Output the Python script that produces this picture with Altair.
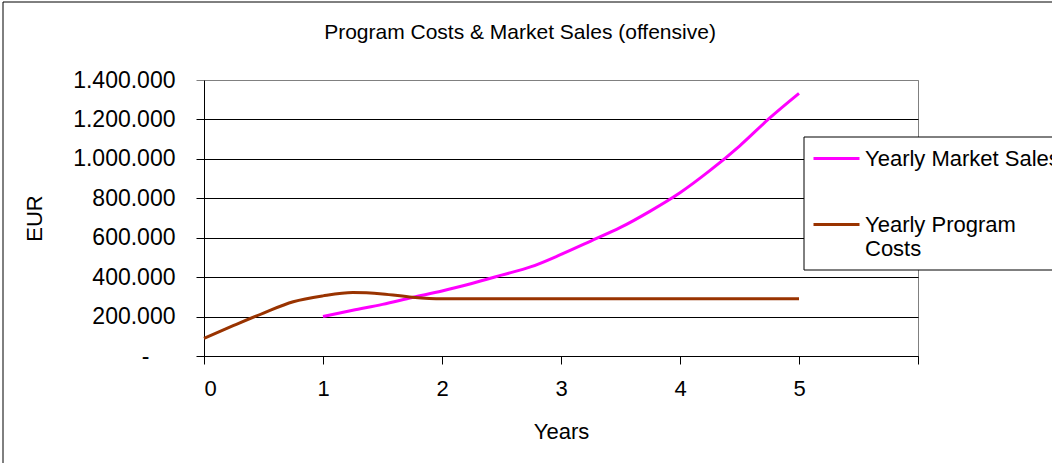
import altair as alt
import pandas as pd

# ---- data ----
cost_years = [0, 0.25, 0.5, 0.75, 1, 1.25, 1.5, 1.75, 2, 3, 4, 5]
cost_values = [90000, 155000, 218000, 275000, 305000, 322000, 315000, 298000, 290000, 290000, 290000, 290000]

sales_years = [1, 1.25, 1.5, 1.75, 2, 2.25, 2.5, 2.75, 3, 3.25, 3.5, 3.75, 4, 4.25, 4.5, 4.75, 5]
sales_values = [200000, 232000, 262000, 297000, 330000, 368000, 410000, 453000, 515000, 583000,
                652000, 735000, 828000, 940000, 1065000, 1205000, 1332000]

series_names = ["Yearly Market Sales", "Yearly Program Costs"]
series_colors = ["#FF00FF", "#993300"]

x_ticks = [0, 1, 2, 3, 4, 5, 6]
y_ticks = [0, 200000, 400000, 600000, 800000, 1000000, 1200000, 1400000]

title_text = "Program Costs & Market Sales (offensive)"

df = pd.concat([
    pd.DataFrame({"Years": sales_years, "EUR": sales_values, "Series": series_names[0]}),
    pd.DataFrame({"Years": cost_years, "EUR": cost_values, "Series": series_names[1]}),
], ignore_index=True)

FONT = "Liberation Sans"
one_row = pd.DataFrame({"a": [0]})

# outer chart-area frame
frame = alt.Chart(one_row).mark_rect(
    filled=False, stroke="black", strokeWidth=1
).encode(
    x=alt.value(-201), x2=alt.value(880), y=alt.value(-78), y2=alt.value(400)
)

lines = alt.Chart(df).mark_line(strokeWidth=3, interpolate="monotone").encode(
    x=alt.X("Years:Q",
            scale=alt.Scale(domain=[0, 6], nice=False, zero=False),
            axis=alt.Axis(values=x_ticks, title="Years", grid=False,
                          labelExpr="datum.value == 6 ? '' : datum.label",
                          tickSize=8, labelPadding=14, titleY=82,
                          titleBaseline="alphabetic")),
    y=alt.Y("EUR:Q",
            scale=alt.Scale(domain=[0, 1400000], nice=False),
            axis=alt.Axis(values=y_ticks, title="EUR", format=",d",
                          labelExpr="datum.value == 0 ? '-' : replace(datum.label, /,/g, '.')",
                          labelFontSize=23,
                          tickSize=8,
                          labelPadding={"condition": {"test": "datum.value == 0", "value": 47}, "value": 21},
                          gridColor={"condition": {"test": "datum.value == 1400000", "value": "#808080"}, "value": "black"},
                          tickColor={"condition": {"test": "datum.value == 1400000", "value": "#808080"}, "value": "black"},
                          titleAngle=270, titleX=-170, titleY=138,
                          titleAlign="center", titleBaseline="middle")),
    color=alt.Color("Series:N",
                    scale=alt.Scale(domain=series_names, range=series_colors),
                    legend=alt.Legend(
                        title=None, orient="none", legendX=600, legendY=46,
                        padding=8,
                        symbolType="stroke", symbolSize=2116, symbolStrokeWidth=3,
                        labelOffset=4, rowPadding=30,
                        labelExpr="datum.label == 'Yearly Program Costs' ? ['Yearly Program', 'Costs'] : datum.label",
                        labelFontSize=22, labelFont=FONT, labelColor="black",
                        labelLimit=400)),
)

# legend box (white, black border), drawn over the grid
legend_box = alt.Chart(one_row).mark_rect(
    fill="white", stroke="black", strokeWidth=1
).encode(
    x=alt.value(600), x2=alt.value(900), y=alt.value(57), y2=alt.value(190)
)

chart = alt.layer(frame, lines, legend_box).properties(
    width=714,
    height=276,
    background="white",
    title=alt.TitleParams(title_text, fontSize=21, font=FONT, fontWeight="normal",
                          color="black", anchor="middle", dx=-41, offset=0, dy=58.5,
                          baseline="alphabetic"),
    autosize=alt.AutoSizeParams(type="none"),
    padding={"left": 204, "top": 80, "right": 134, "bottom": 107},
).configure_view(
    stroke="#808080", strokeWidth=1
).configure_axis(
    labelFont=FONT, titleFont=FONT, labelFontSize=22, titleFontSize=22,
    labelColor="black", titleColor="black", titleFontWeight="normal",
    domainColor="black", tickColor="black", gridColor="black", gridWidth=1,
    gridOpacity=1
)

chart.save("out.html", embed_options={"renderer": "svg", "actions": False})
